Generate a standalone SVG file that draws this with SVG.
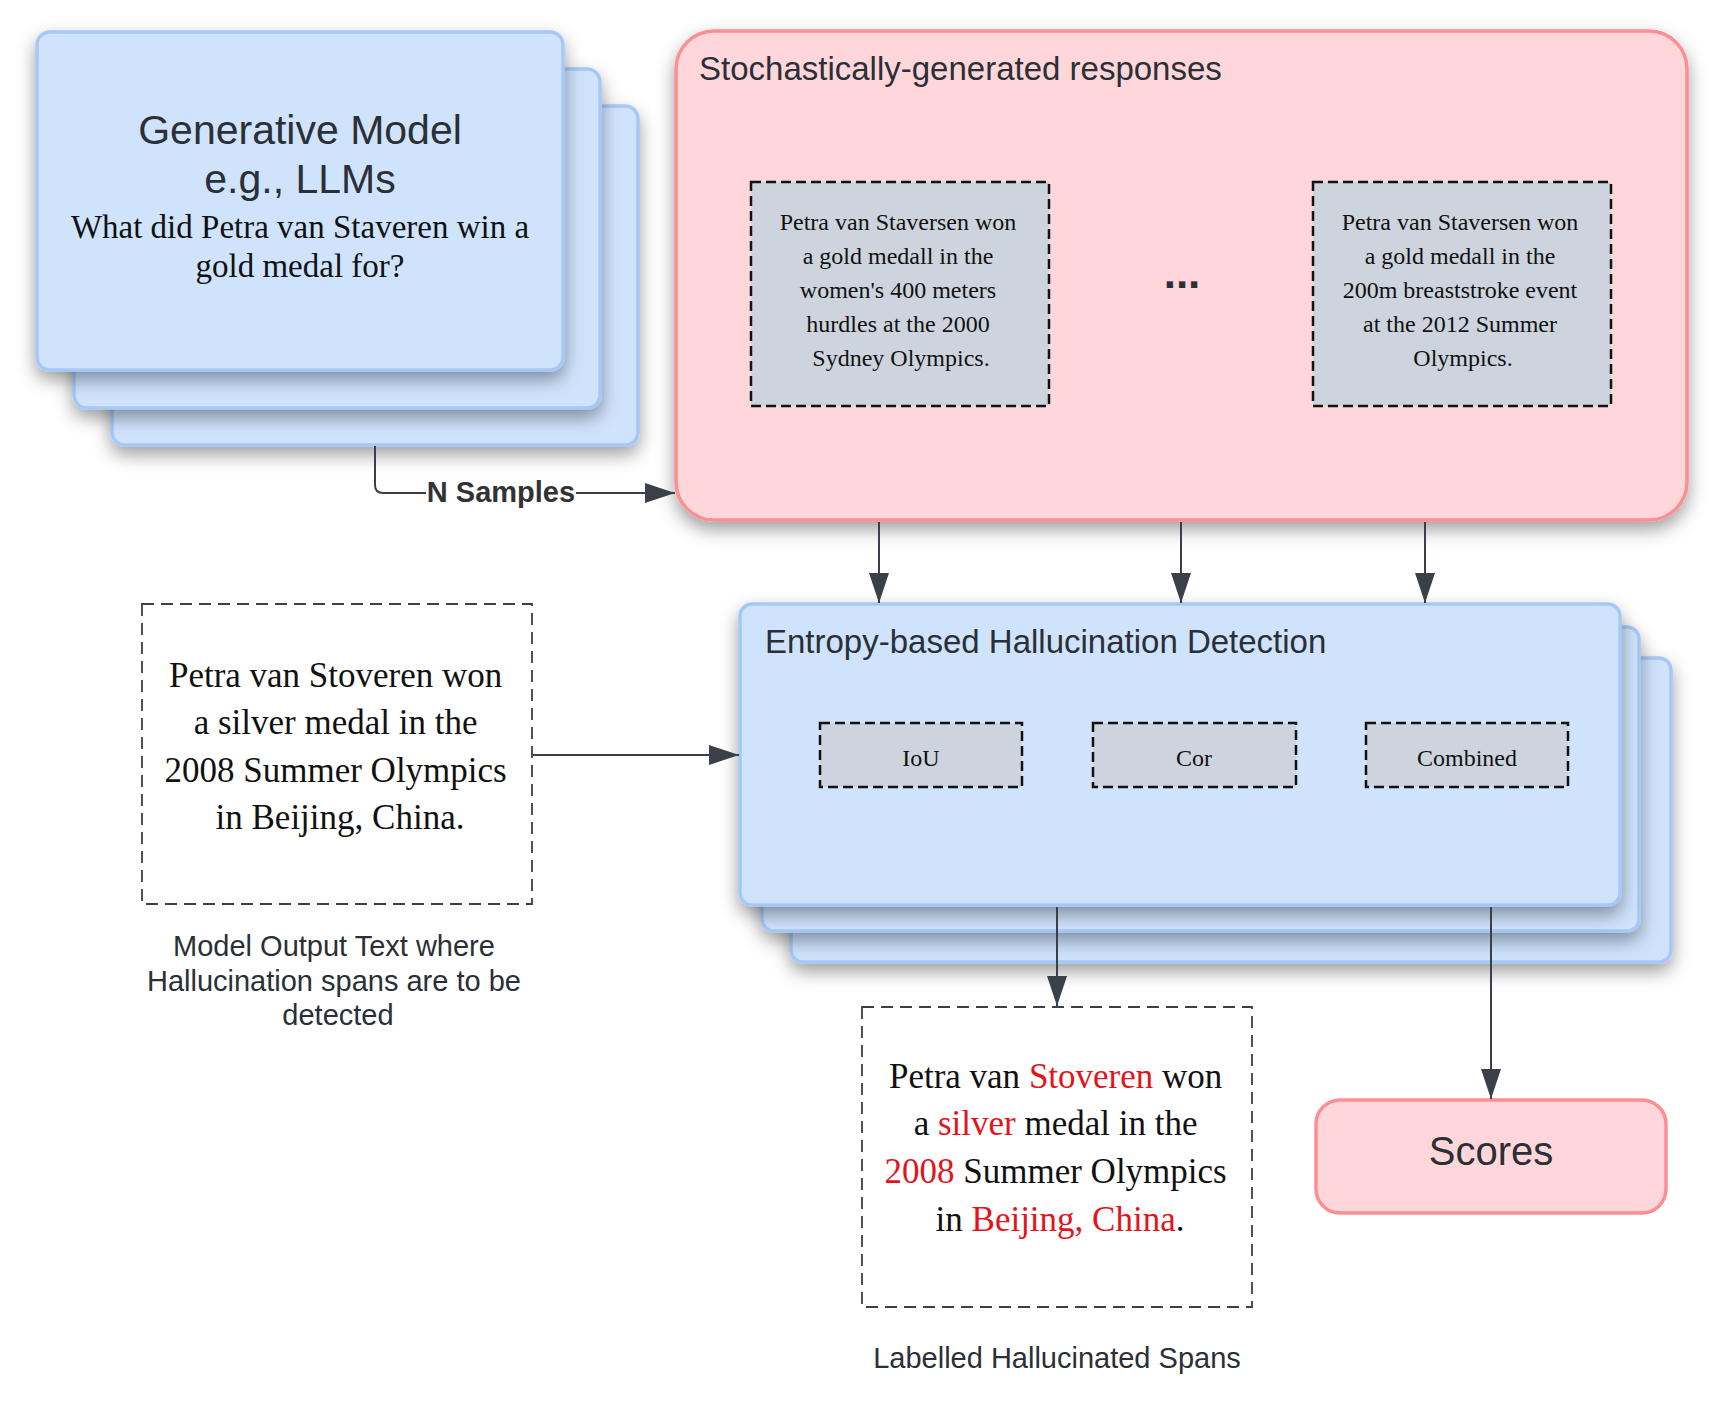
<svg xmlns="http://www.w3.org/2000/svg" width="1723" height="1406" viewBox="0 0 1723 1406">
<style>
.blue{fill:#cfe3fd;stroke:#a6c8f6;stroke-width:3.5}
.pink{fill:#ffd6d9;stroke:#fb8f92;stroke-width:3.5}
.gray{fill:#cdd4dd;stroke:#111;stroke-width:2.5;stroke-dasharray:10 5}
.dash{fill:none;stroke:#3a3f4a;stroke-width:1.8;stroke-dasharray:12 7}
.sans{font-family:"Liberation Sans",Arial,sans-serif;fill:#2b2f36}
.serif{font-family:"Liberation Serif","Times New Roman",serif;fill:#111}
.red{fill:#e3141b}
.line{fill:none;stroke:#3a3f4a;stroke-width:2}
</style>
<defs>
<filter id="sh" x="-10%" y="-10%" width="125%" height="135%">
<feDropShadow dx="0" dy="8" stdDeviation="9" flood-color="#000" flood-opacity="0.38"/>
</filter>
<marker id="ah" viewBox="0 0 30 20" refX="30" refY="10" markerWidth="30" markerHeight="20" markerUnits="userSpaceOnUse" orient="auto">
<path d="M0,0 L30,10 L0,20 Z" fill="#3a3f4a"/>
</marker>
</defs>
<rect width="1723" height="1406" fill="#fff"/>

<g id="generative-model">
<rect class="blue" x="112" y="106" width="526" height="339" rx="13" filter="url(#sh)"/>
<rect class="blue" x="74" y="69" width="526" height="339" rx="13" filter="url(#sh)"/>
<rect class="blue" x="37" y="32" width="526" height="338" rx="13" filter="url(#sh)"/>
<text class="sans" x="300" y="144" font-size="41" text-anchor="middle">Generative Model</text>
<text class="sans" x="300" y="193" font-size="41" text-anchor="middle">e.g., LLMs</text>
<text class="serif" x="300" y="238" font-size="33" text-anchor="middle">What did Petra van Staveren win a</text>
<text class="serif" x="300" y="277" font-size="33" text-anchor="middle">gold medal for?</text>
</g>

<g id="responses">
<rect class="pink" x="676" y="31" width="1011" height="489" rx="38" filter="url(#sh)"/>
<text class="sans" x="699" y="80" font-size="33">Stochastically-generated responses</text>
<rect class="gray" x="751" y="182" width="298" height="224"/>
<text class="serif" font-size="24" text-anchor="middle">
<tspan x="901" y="230">Petra van Staversen won</tspan>
<tspan x="901" y="264">a gold medall in the</tspan>
<tspan x="901" y="298">women's 400 meters</tspan>
<tspan x="901" y="332">hurdles at the 2000</tspan>
<tspan x="901" y="366">Sydney Olympics.</tspan>
</text>
<text class="sans" x="1182" y="288" font-size="44" font-weight="bold" text-anchor="middle" fill="#3a3f4a">...</text>
<rect class="gray" x="1313" y="182" width="298" height="224"/>
<text class="serif" font-size="24" text-anchor="middle">
<tspan x="1463" y="230">Petra van Staversen won</tspan>
<tspan x="1463" y="264">a gold medall in the</tspan>
<tspan x="1463" y="298">200m breaststroke event</tspan>
<tspan x="1463" y="332">at the 2012 Summer</tspan>
<tspan x="1463" y="366">Olympics.</tspan>
</text>
</g>

<g id="entropy-detection">
<rect class="blue" x="791" y="658" width="880" height="304" rx="12" filter="url(#sh)"/>
<rect class="blue" x="762" y="627" width="877" height="304" rx="12" filter="url(#sh)"/>
<rect class="blue" x="740" y="604" width="880" height="301" rx="12" filter="url(#sh)"/>
<text class="sans" x="765" y="653" font-size="33">Entropy-based Hallucination Detection</text>
<rect class="gray" x="820" y="723" width="202" height="64"/>
<text class="serif" x="921" y="766" font-size="24" text-anchor="middle">IoU</text>
<rect class="gray" x="1093" y="723" width="203" height="64"/>
<text class="serif" x="1194" y="766" font-size="24" text-anchor="middle">Cor</text>
<rect class="gray" x="1366" y="723" width="202" height="64"/>
<text class="serif" x="1467" y="766" font-size="24" text-anchor="middle">Combined</text>
</g>

<g id="model-output">
<rect class="dash" x="142" y="604" width="390" height="300"/>
<text class="serif" font-size="35" text-anchor="middle">
<tspan x="340" y="687">Petra van Stoveren won</tspan>
<tspan x="340" y="734">a silver medal in the</tspan>
<tspan x="340" y="782">2008 Summer Olympics</tspan>
<tspan x="340" y="829">in Beijing, China.</tspan>
</text>
<text class="sans" font-size="29" text-anchor="middle" fill="#111">
<tspan x="338" y="956">Model Output Text where</tspan>
<tspan x="338" y="991">Hallucination spans are to be</tspan>
<tspan x="338" y="1025">detected</tspan>
</text>
</g>

<g id="labelled-spans">
<rect class="dash" x="862" y="1007" width="390" height="300"/>
<text class="serif" font-size="35" text-anchor="middle">
<tspan x="1060" y="1088">Petra van <tspan class="red">Stoveren</tspan> won</tspan>
<tspan x="1060" y="1135">a <tspan class="red">silver</tspan> medal in the</tspan>
<tspan x="1060" y="1183"><tspan class="red">2008</tspan> Summer Olympics</tspan>
<tspan x="1060" y="1231">in <tspan class="red">Beijing, China</tspan>.</tspan>
</text>
<text class="sans" x="1057" y="1368" font-size="29" text-anchor="middle" fill="#111">Labelled Hallucinated Spans</text>
</g>

<g id="scores">
<rect class="pink" x="1316" y="1100" width="350" height="113" rx="24"/>
<text class="sans" x="1491" y="1165" font-size="40" text-anchor="middle">Scores</text>
</g>

<g id="connectors">
<path class="line" d="M375,446 V485 Q375,493 383,493 H675" marker-end="url(#ah)"/>
<rect x="426" y="476" width="150" height="34" fill="#fff"/>
<text x="501" y="502" font-family="Liberation Sans,Arial,sans-serif" font-size="29" font-weight="bold" text-anchor="middle" fill="#333">N Samples</text>
<path class="line" d="M879,522 V603" marker-end="url(#ah)"/>
<path class="line" d="M1181,522 V603" marker-end="url(#ah)"/>
<path class="line" d="M1425,522 V603" marker-end="url(#ah)"/>
<path class="line" d="M533,755 H739" marker-end="url(#ah)"/>
<path class="line" d="M1057,907 V1006" marker-end="url(#ah)"/>
<path class="line" d="M1491,907 V1099" marker-end="url(#ah)"/>
</g>
</svg>
